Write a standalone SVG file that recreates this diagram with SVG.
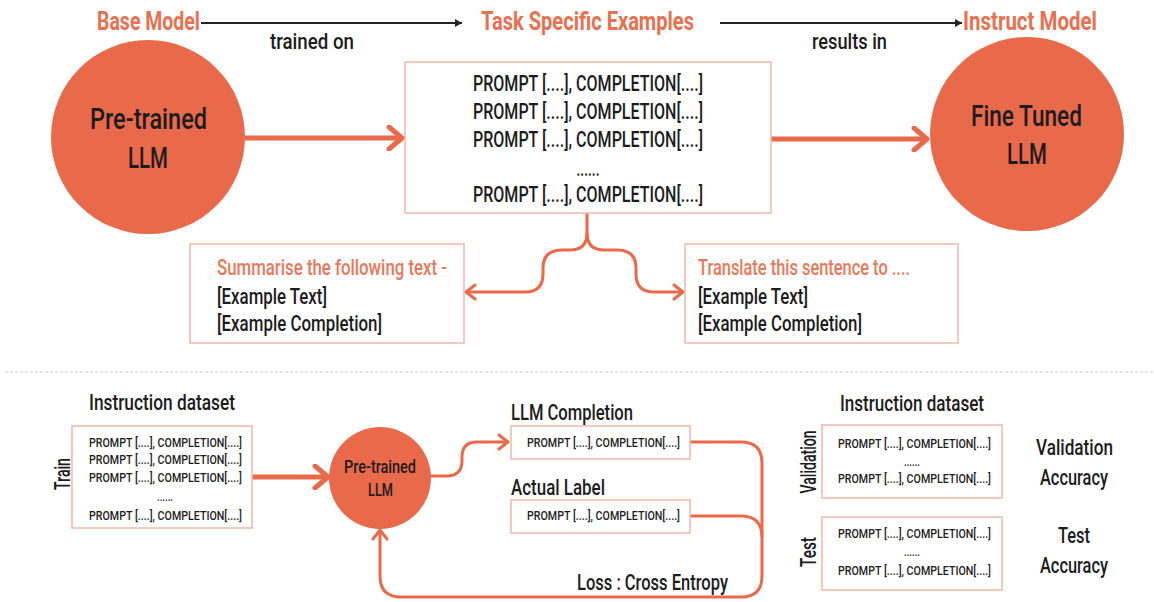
<svg xmlns="http://www.w3.org/2000/svg" width="1154" height="602" viewBox="0 0 1154 602">
<style>
text{font-family:Roboto,"Liberation Sans",Arial,sans-serif;font-weight:500;fill:#1c1c1c;dominant-baseline:central}
.title{font-weight:bold;fill:#E8704F;font-size:25px}
.lbl{font-size:22px}
.big{font-size:30px}
.mid{font-size:19px}
.p20{font-size:22px;text-anchor:middle}
.p13{font-size:13.5px;text-anchor:middle}
.c{text-anchor:middle}
.org{fill:#E8785A}
.box{fill:#fff;stroke:#EFB8A8;stroke-width:1.5}
.circ{fill:#E9694B}
.thick{fill:none;stroke:#E9694B;stroke-width:5}
.thin{fill:none;stroke:#E9694B;stroke-width:3}
.blk{fill:none;stroke:#222;stroke-width:2}
</style>
<defs>
<marker id="ah" viewBox="-16 -13 19 26" refX="0" refY="0" markerWidth="19" markerHeight="26" markerUnits="userSpaceOnUse" orient="auto">
<path d="M-13,-11 L0,0 L-13,11" fill="none" stroke="#E9694B" stroke-width="5" stroke-linecap="round" stroke-linejoin="round"/>
</marker>
<marker id="as" viewBox="-12 -9 14 18" refX="0" refY="0" markerWidth="14" markerHeight="18" markerUnits="userSpaceOnUse" orient="auto">
<path d="M-9,-7 L0,0 L-9,7" fill="none" stroke="#E9694B" stroke-width="3" stroke-linecap="round" stroke-linejoin="round"/>
</marker>
<marker id="ab" viewBox="-8 -5 9 10" refX="0" refY="0" markerWidth="9" markerHeight="10" markerUnits="userSpaceOnUse" orient="auto">
<path d="M-7,-4 L0,0 L-7,4 Z" fill="#222"/>
</marker>
</defs>
<rect width="1154" height="602" fill="#fff"/>

<g id="labels-top">
<text class="title c" x="148.5" y="21" textLength="103" lengthAdjust="spacingAndGlyphs">Base Model</text>
<text class="title c" x="587.5" y="21" textLength="213" lengthAdjust="spacingAndGlyphs">Task Specific Examples</text>
<text class="title c" x="1030" y="21" textLength="134" lengthAdjust="spacingAndGlyphs">Instruct Model</text>
<text class="lbl c" x="312" y="41" textLength="84" lengthAdjust="spacingAndGlyphs">trained on</text>
<text class="lbl c" x="849.5" y="41" textLength="75" lengthAdjust="spacingAndGlyphs">results in</text>
</g>

<g id="connectors">
<path class="blk" d="M201,23 H462" marker-end="url(#ab)"/>
<path class="blk" d="M720,23 H962" marker-end="url(#ab)"/>
<path class="thick" d="M245,138 H402" marker-end="url(#ah)"/>
<path class="thick" d="M771,139 H927" marker-end="url(#ah)"/>
<path class="thin" d="M587,213 V233 Q587,250 570,250 H562 Q543,250 543,268 V274 Q543,292 525,292 H466" marker-end="url(#as)"/>
<path class="thin" d="M587,233 Q587,250 604,250 H617 Q636,250 636,268 V274 Q636,292 654,292 H683" marker-end="url(#as)"/>
<path class="thick" d="M252,477 H328" marker-end="url(#ah)"/>
<path class="thin" d="M430,476 H446 Q462,476 462,461 V457 Q462,442 477,442 H508" marker-end="url(#as)"/>
<path class="thin" d="M690,442 H741 Q762,442 762,463 V576 Q762,597 741,597 H401 Q380,597 380,576 V530" marker-end="url(#as)"/>
<path class="thin" d="M690,516 H741 Q762,516 762,537"/>
</g>

<g id="node-pretrained">
<circle class="circ" cx="148" cy="137" r="97"/>
<text class="big c" x="148.5" y="118" textLength="117" lengthAdjust="spacingAndGlyphs">Pre-trained</text>
<text class="big c" x="148" y="157" textLength="40" lengthAdjust="spacingAndGlyphs">LLM</text>
</g>

<g id="node-examples">
<rect class="box" x="405" y="62" width="366" height="151"/>
<text class="p20" x="588" y="83" textLength="230" lengthAdjust="spacingAndGlyphs">PROMPT [....], COMPLETION[....]</text>
<text class="p20" x="588" y="111" textLength="230" lengthAdjust="spacingAndGlyphs">PROMPT [....], COMPLETION[....]</text>
<text class="p20" x="588" y="139" textLength="230" lengthAdjust="spacingAndGlyphs">PROMPT [....], COMPLETION[....]</text>
<text class="p20" x="588" y="168" textLength="23" lengthAdjust="spacingAndGlyphs">......</text>
<text class="p20" x="588" y="194" textLength="230" lengthAdjust="spacingAndGlyphs">PROMPT [....], COMPLETION[....]</text>
</g>

<g id="node-finetuned">
<circle class="circ" cx="1027" cy="134" r="97"/>
<text class="big c" x="1026.5" y="115" textLength="111" lengthAdjust="spacingAndGlyphs">Fine Tuned</text>
<text class="big c" x="1027" y="153" textLength="40" lengthAdjust="spacingAndGlyphs">LLM</text>
</g>

<g id="node-summarise">
<rect class="box" x="190" y="244" width="274" height="99"/>
<text class="lbl org" x="217" y="267" textLength="230" lengthAdjust="spacingAndGlyphs">Summarise the following text -</text>
<text class="lbl" x="217" y="296" textLength="110" lengthAdjust="spacingAndGlyphs">[Example Text]</text>
<text class="lbl" x="217" y="323" textLength="165" lengthAdjust="spacingAndGlyphs">[Example Completion]</text>
</g>

<g id="node-translate">
<rect class="box" x="685" y="244" width="273" height="99"/>
<text class="lbl org" x="698" y="267" textLength="212" lengthAdjust="spacingAndGlyphs">Translate this sentence to ....</text>
<text class="lbl" x="698" y="296" textLength="110" lengthAdjust="spacingAndGlyphs">[Example Text]</text>
<text class="lbl" x="698" y="323" textLength="164" lengthAdjust="spacingAndGlyphs">[Example Completion]</text>
</g>

<line x1="5" y1="372" x2="1154" y2="372" stroke="#dcdcdc" stroke-width="1.5" stroke-dasharray="3,2"/>

<g id="node-train">
<text class="lbl c" x="162" y="402" textLength="146" lengthAdjust="spacingAndGlyphs">Instruction dataset</text>
<text class="lbl c" transform="translate(62,474) rotate(-90)" x="0" y="0" textLength="32" lengthAdjust="spacingAndGlyphs">Train</text>
<rect class="box" x="72" y="426" width="180" height="102"/>
<text class="p13" x="165.5" y="442" textLength="153" lengthAdjust="spacingAndGlyphs">PROMPT [....], COMPLETION[....]</text>
<text class="p13" x="165.5" y="459" textLength="153" lengthAdjust="spacingAndGlyphs">PROMPT [....], COMPLETION[....]</text>
<text class="p13" x="165.5" y="477" textLength="153" lengthAdjust="spacingAndGlyphs">PROMPT [....], COMPLETION[....]</text>
<text class="p13" x="165" y="496" textLength="16" lengthAdjust="spacingAndGlyphs">......</text>
<text class="p13" x="165.5" y="515" textLength="153" lengthAdjust="spacingAndGlyphs">PROMPT [....], COMPLETION[....]</text>
</g>

<g id="node-pretrained-small">
<circle class="circ" cx="380" cy="478" r="51"/>
<text class="mid c" x="380" y="466" textLength="72" lengthAdjust="spacingAndGlyphs">Pre-trained</text>
<text class="mid c" x="380.5" y="489" textLength="25" lengthAdjust="spacingAndGlyphs">LLM</text>
</g>

<g id="node-llm-completion">
<text class="lbl" x="511" y="412" textLength="122" lengthAdjust="spacingAndGlyphs">LLM Completion</text>
<rect class="box" x="511" y="426" width="179" height="33"/>
<text class="p13" x="603.5" y="442" textLength="153" lengthAdjust="spacingAndGlyphs">PROMPT [....], COMPLETION[....]</text>
</g>

<g id="node-actual-label">
<text class="lbl" x="511" y="487" textLength="94" lengthAdjust="spacingAndGlyphs">Actual Label</text>
<rect class="box" x="511" y="500" width="179" height="33"/>
<text class="p13" x="603.5" y="515" textLength="153" lengthAdjust="spacingAndGlyphs">PROMPT [....], COMPLETION[....]</text>
</g>

<text class="lbl" x="577" y="582" textLength="151" lengthAdjust="spacingAndGlyphs">Loss : Cross Entropy</text>

<g id="node-validation">
<text class="lbl c" x="912" y="403" textLength="144" lengthAdjust="spacingAndGlyphs">Instruction dataset</text>
<text class="lbl c" transform="translate(808,462) rotate(-90)" x="0" y="0" textLength="63" lengthAdjust="spacingAndGlyphs">Validation</text>
<rect class="box" x="822" y="425" width="180" height="73"/>
<text class="p13" x="914.5" y="443" textLength="153" lengthAdjust="spacingAndGlyphs">PROMPT [....], COMPLETION[....]</text>
<text class="p13" x="912" y="461" textLength="16" lengthAdjust="spacingAndGlyphs">......</text>
<text class="p13" x="914.5" y="478" textLength="153" lengthAdjust="spacingAndGlyphs">PROMPT [....], COMPLETION[....]</text>
<text class="lbl c" x="1074.5" y="447" textLength="77" lengthAdjust="spacingAndGlyphs">Validation</text>
<text class="lbl c" x="1074" y="477" textLength="68" lengthAdjust="spacingAndGlyphs">Accuracy</text>
</g>

<g id="node-test">
<text class="lbl c" transform="translate(808,552) rotate(-90)" x="0" y="0" textLength="30" lengthAdjust="spacingAndGlyphs">Test</text>
<rect class="box" x="822" y="517" width="180" height="73"/>
<text class="p13" x="914.5" y="533" textLength="153" lengthAdjust="spacingAndGlyphs">PROMPT [....], COMPLETION[....]</text>
<text class="p13" x="912" y="551" textLength="16" lengthAdjust="spacingAndGlyphs">......</text>
<text class="p13" x="914.5" y="570" textLength="153" lengthAdjust="spacingAndGlyphs">PROMPT [....], COMPLETION[....]</text>
<text class="lbl c" x="1074" y="535" textLength="32" lengthAdjust="spacingAndGlyphs">Test</text>
<text class="lbl c" x="1074" y="565" textLength="68" lengthAdjust="spacingAndGlyphs">Accuracy</text>
</g>
</svg>
